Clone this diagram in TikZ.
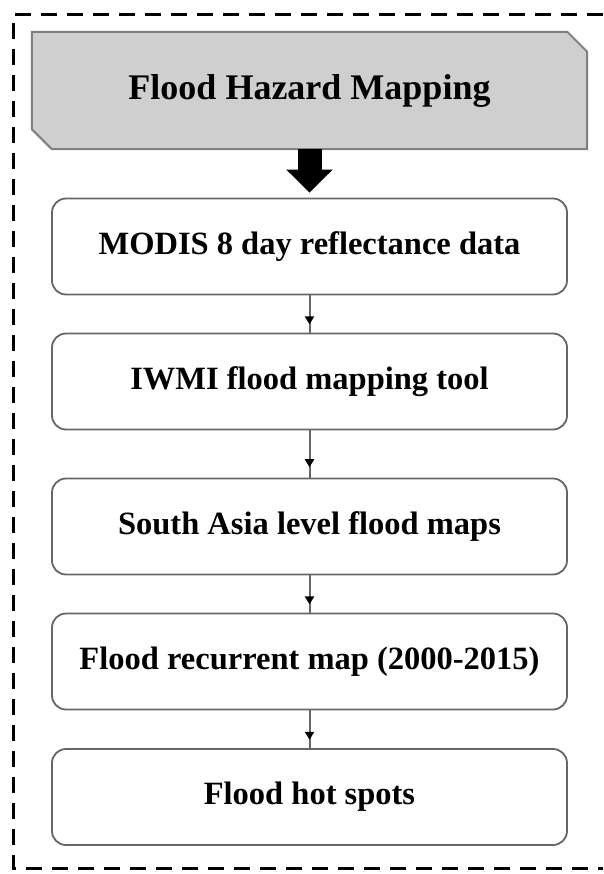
\documentclass[tikz,border=0pt]{standalone}
\usepackage{fontspec}
\setmainfont{Liberation Serif}
\usetikzlibrary{arrows.meta,decorations.markings,backgrounds}
\begin{document}
\begin{tikzpicture}[x=1pt,y=-1pt,
  stepbox/.style={draw=black!60, line width=1.8pt, rounded corners=14pt, fill=white,
    minimum width=515pt, minimum height=96pt, inner sep=0pt,
    font=\fontsize{32.5}{38}\selectfont\bfseries},
  hdrbox/.style={minimum width=555pt, minimum height=117pt, inner sep=0pt,
    font=\fontsize{36}{42}\selectfont\bfseries},
  link/.style={draw=black!60, line width=2pt,
    postaction={decorate, decoration={markings, mark=at position 0.78 with {\arrow[black]{Triangle[width=9pt,length=8pt]}}}}},
  bigarrow/.style={line width=24pt, -{Triangle[width=45pt,length=23pt]}, shorten >=5pt},
  frame/.style={line width=3pt, dash pattern=on 16pt off 10pt}
]
\useasboundingbox (0,0) rectangle (603,874);
% dashed frame (right side outside the picture)
\draw[frame] (603,15) -- (13,15) -- (13,868) -- (603,868);

% header
\node[hdrbox] (hdr) at (309.5,90.5) {Flood Hazard Mapping};
\begin{scope}[on background layer]
\draw[draw=black!50, line width=2pt, fill=black!19]
  (hdr.north west) -- ([xshift=-20pt]hdr.north east) -- ([yshift=-20pt]hdr.north east)
  -- (hdr.south east) -- ([xshift=20pt]hdr.south west) -- ([yshift=20pt]hdr.south west) -- cycle;
\end{scope}

% steps
\node[stepbox] (b1) at (309.5,246.5) {MODIS 8 day reflectance data};
\node[stepbox] (b2) at (309.5,381.5) {IWMI flood mapping tool};
\node[stepbox] (b3) at (309.5,526.5) {South Asia level flood maps};
\node[stepbox] (b4) at (309.5,661.5) {Flood recurrent map (2000-2015)};
\node[stepbox] (b5) at (309.5,797) {Flood hot spots};

% connectors
\draw[bigarrow] (hdr.south) -- (b1.north);
\draw[link] (b1.south) -- (b2.north);
\draw[link] (b2.south) -- (b3.north);
\draw[link] (b3.south) -- (b4.north);
\draw[link] (b4.south) -- (b5.north);
\end{tikzpicture}
\end{document}
